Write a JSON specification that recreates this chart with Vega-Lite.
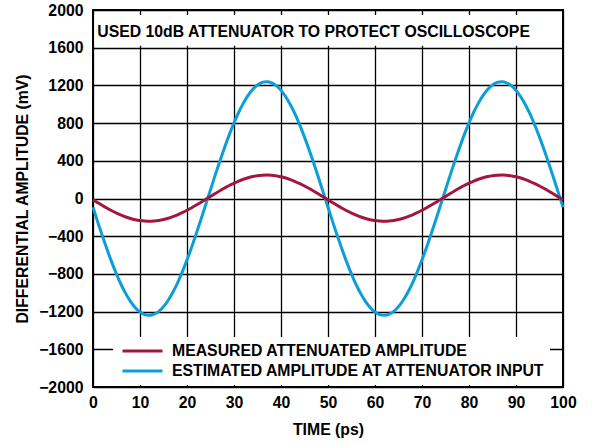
{
  "$schema": "https://vega.github.io/schema/vega-lite/v6.json",
  "width": 470,
  "height": 377,
  "autosize": {"type": "none"},
  "padding": {"left": 93, "top": 10, "right": 29, "bottom": 57},
  "background": "white",
  "config": {
    "font": "Liberation Sans",
    "view": {"stroke": "#000", "strokeWidth": 2},
    "axis": {
      "domain": false,
      "ticks": false,
      "grid": true,
      "gridColor": "#000",
      "gridWidth": 1.3,
      "gridOpacity": 1,
      "labelOverlap": false,
      "tickCount": 30,
      "labelFont": "Liberation Sans",
      "labelFontSize": 15.8,
      "labelFontWeight": "bold",
      "labelColor": "#000",
      "titleFont": "Liberation Sans",
      "titleFontSize": 15.8,
      "titleFontWeight": "bold",
      "titleColor": "#000"
    }
  },
  "data": {
    "values": [
      {"t": 0, "estimated": -93, "measured": -14},
      {"t": 1, "estimated": -248, "measured": -45},
      {"t": 2, "estimated": -398, "measured": -75},
      {"t": 3, "estimated": -542, "measured": -103},
      {"t": 4, "estimated": -678, "measured": -130},
      {"t": 5, "estimated": -802, "measured": -155},
      {"t": 6, "estimated": -915, "measured": -177},
      {"t": 7, "estimated": -1012, "measured": -196},
      {"t": 8, "estimated": -1094, "measured": -212},
      {"t": 9, "estimated": -1159, "measured": -225},
      {"t": 10, "estimated": -1205, "measured": -234},
      {"t": 11, "estimated": -1232, "measured": -239},
      {"t": 12, "estimated": -1240, "measured": -241},
      {"t": 13, "estimated": -1228, "measured": -239},
      {"t": 14, "estimated": -1197, "measured": -233},
      {"t": 15, "estimated": -1147, "measured": -223},
      {"t": 16, "estimated": -1079, "measured": -209},
      {"t": 17, "estimated": -994, "measured": -192},
      {"t": 18, "estimated": -894, "measured": -173},
      {"t": 19, "estimated": -778, "measured": -150},
      {"t": 20, "estimated": -651, "measured": -125},
      {"t": 21, "estimated": -514, "measured": -98},
      {"t": 22, "estimated": -368, "measured": -69},
      {"t": 23, "estimated": -217, "measured": -39},
      {"t": 24, "estimated": -62, "measured": -8},
      {"t": 25, "estimated": 93, "measured": 22},
      {"t": 26, "estimated": 248, "measured": 53},
      {"t": 27, "estimated": 398, "measured": 83},
      {"t": 28, "estimated": 542, "measured": 111},
      {"t": 29, "estimated": 678, "measured": 138},
      {"t": 30, "estimated": 802, "measured": 162},
      {"t": 31, "estimated": 915, "measured": 185},
      {"t": 32, "estimated": 1012, "measured": 204},
      {"t": 33, "estimated": 1094, "measured": 220},
      {"t": 34, "estimated": 1159, "measured": 233},
      {"t": 35, "estimated": 1205, "measured": 242},
      {"t": 36, "estimated": 1232, "measured": 247},
      {"t": 37, "estimated": 1240, "measured": 249},
      {"t": 38, "estimated": 1228, "measured": 247},
      {"t": 39, "estimated": 1197, "measured": 240},
      {"t": 40, "estimated": 1147, "measured": 231},
      {"t": 41, "estimated": 1079, "measured": 217},
      {"t": 42, "estimated": 994, "measured": 200},
      {"t": 43, "estimated": 894, "measured": 180},
      {"t": 44, "estimated": 778, "measured": 158},
      {"t": 45, "estimated": 651, "measured": 133},
      {"t": 46, "estimated": 514, "measured": 106},
      {"t": 47, "estimated": 368, "measured": 77},
      {"t": 48, "estimated": 217, "measured": 47},
      {"t": 49, "estimated": 62, "measured": 16},
      {"t": 50, "estimated": -93, "measured": -14},
      {"t": 51, "estimated": -248, "measured": -45},
      {"t": 52, "estimated": -398, "measured": -75},
      {"t": 53, "estimated": -542, "measured": -103},
      {"t": 54, "estimated": -678, "measured": -130},
      {"t": 55, "estimated": -802, "measured": -155},
      {"t": 56, "estimated": -915, "measured": -177},
      {"t": 57, "estimated": -1012, "measured": -196},
      {"t": 58, "estimated": -1094, "measured": -212},
      {"t": 59, "estimated": -1159, "measured": -225},
      {"t": 60, "estimated": -1205, "measured": -234},
      {"t": 61, "estimated": -1232, "measured": -239},
      {"t": 62, "estimated": -1240, "measured": -241},
      {"t": 63, "estimated": -1228, "measured": -239},
      {"t": 64, "estimated": -1197, "measured": -233},
      {"t": 65, "estimated": -1147, "measured": -223},
      {"t": 66, "estimated": -1079, "measured": -209},
      {"t": 67, "estimated": -994, "measured": -192},
      {"t": 68, "estimated": -894, "measured": -173},
      {"t": 69, "estimated": -778, "measured": -150},
      {"t": 70, "estimated": -651, "measured": -125},
      {"t": 71, "estimated": -514, "measured": -98},
      {"t": 72, "estimated": -368, "measured": -69},
      {"t": 73, "estimated": -217, "measured": -39},
      {"t": 74, "estimated": -62, "measured": -8},
      {"t": 75, "estimated": 93, "measured": 22},
      {"t": 76, "estimated": 248, "measured": 53},
      {"t": 77, "estimated": 398, "measured": 83},
      {"t": 78, "estimated": 542, "measured": 111},
      {"t": 79, "estimated": 678, "measured": 138},
      {"t": 80, "estimated": 802, "measured": 162},
      {"t": 81, "estimated": 915, "measured": 185},
      {"t": 82, "estimated": 1012, "measured": 204},
      {"t": 83, "estimated": 1094, "measured": 220},
      {"t": 84, "estimated": 1159, "measured": 233},
      {"t": 85, "estimated": 1205, "measured": 242},
      {"t": 86, "estimated": 1232, "measured": 247},
      {"t": 87, "estimated": 1240, "measured": 249},
      {"t": 88, "estimated": 1228, "measured": 247},
      {"t": 89, "estimated": 1197, "measured": 240},
      {"t": 90, "estimated": 1147, "measured": 231},
      {"t": 91, "estimated": 1079, "measured": 217},
      {"t": 92, "estimated": 994, "measured": 200},
      {"t": 93, "estimated": 894, "measured": 180},
      {"t": 94, "estimated": 778, "measured": 158},
      {"t": 95, "estimated": 651, "measured": 133},
      {"t": 96, "estimated": 514, "measured": 106},
      {"t": 97, "estimated": 368, "measured": 77},
      {"t": 98, "estimated": 217, "measured": 47},
      {"t": 99, "estimated": 62, "measured": 16},
      {"t": 100, "estimated": -93, "measured": -14}
    ]
  },
  "layer": [
    {
      "transform": [{"fold": ["estimated", "measured"], "as": ["series", "value"]}],
      "mark": {"type": "line", "strokeWidth": 3, "interpolate": "monotone"},
      "encoding": {
        "x": {
          "field": "t",
          "type": "quantitative",
          "scale": {"domain": [0, 100], "nice": false},
          "axis": {
            "values": [0, 10, 20, 30, 40, 50, 60, 70, 80, 90, 100],
            "format": "d",
            "tickCount": 30,
            "labelPadding": 8,
            "labelFlush": false,
            "title": "TIME (ps)",
            "titlePadding": 13
          }
        },
        "y": {
          "field": "value",
          "type": "quantitative",
          "scale": {"domain": [-2000, 2000], "nice": false},
          "axis": {
            "values": [-2000, -1600, -1200, -800, -400, 0, 400, 800, 1200, 1600, 2000],
            "format": "d",
            "tickCount": 30,
            "labelPadding": 10,
            "labelFlush": false,
            "title": "DIFFERENTIAL AMPLITUDE (mV)",
            "titlePadding": 8
          }
        },
        "color": {
          "field": "series",
          "type": "nominal",
          "scale": {"domain": ["measured", "estimated"], "range": ["#A3173F", "#0B9ED8"]},
          "legend": {
            "orient": "none",
            "legendX": 20,
            "legendY": 327,
            "title": null,
            "fillColor": "white",
            "padding": 4,
            "symbolType": "stroke",
            "symbolSize": 1600,
            "symbolStrokeWidth": 3,
            "clipHeight": 20,
            "rowPadding": 0,
            "symbolOffset": 4,
            "labelOffset": 8,
            "labelFont": "Liberation Sans",
            "labelFontSize": 15.8,
            "labelFontWeight": "bold",
            "labelColor": "#000",
            "labelLimit": 500,
            "labelExpr": "datum.label == 'measured' ? 'MEASURED ATTENUATED AMPLITUDE' : 'ESTIMATED AMPLITUDE AT ATTENUATOR INPUT'"
          }
        }
      }
    },
    {
      "data": {"values": [{}]},
      "mark": {"type": "rect", "fill": "white", "stroke": null},
      "encoding": {
        "x": {"datum": 0.3},
        "x2": {"datum": 99.7},
        "y": {"datum": 1947},
        "y2": {"datum": 1620}
      }
    },
    {
      "data": {"values": [{}]},
      "mark": {"type": "text", "align": "left", "baseline": "middle", "font": "Liberation Sans", "fontSize": 15.8, "fontWeight": "bold", "fill": "#000", "stroke": null},
      "encoding": {
        "x": {"datum": 0.9},
        "y": {"datum": 1767},
        "text": {"value": "USED 10dB ATTENUATOR TO PROTECT OSCILLOSCOPE"}
      }
    }
  ]
}
